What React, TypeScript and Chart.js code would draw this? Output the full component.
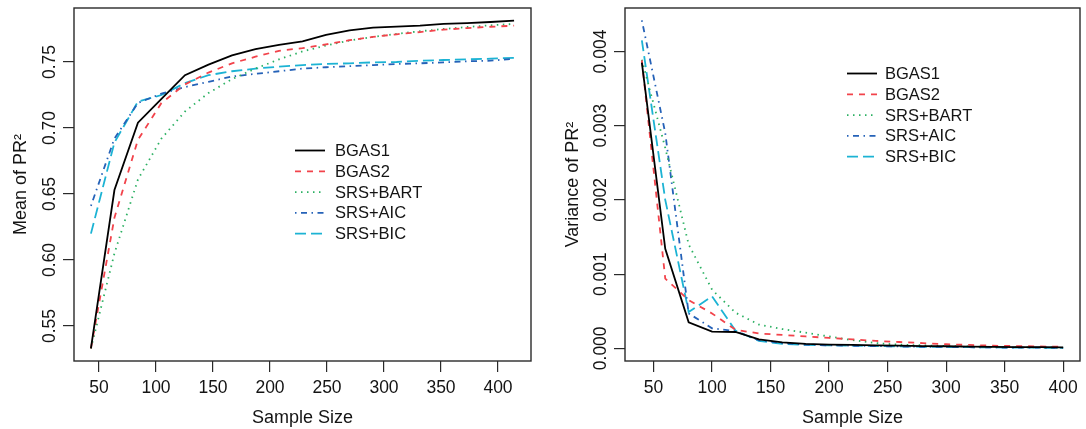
import React, { useEffect, useRef } from "react";
import { Chart, registerables } from "chart.js";

Chart.register(...registerables);

// ---------- data ----------
const sampleSizes = [40, 60, 80, 100, 120, 140, 160, 180, 200, 220, 240, 260, 280, 300, 320, 340, 360, 380, 400];

const seriesLabels = ["BGAS1", "BGAS2", "SRS+BART", "SRS+AIC", "SRS+BIC"];

// Mean of PR^2
const meanBGAS1 = [0.533, 0.653, 0.704, 0.722, 0.740, 0.748, 0.755, 0.7598, 0.763, 0.7657, 0.7705, 0.774, 0.776, 0.7768, 0.7775, 0.7788, 0.7795, 0.7803, 0.7813];
const meanBGAS2 = [0.533, 0.632, 0.691, 0.719, 0.733, 0.742, 0.749, 0.754, 0.7585, 0.7605, 0.7633, 0.7665, 0.769, 0.771, 0.7727, 0.7745, 0.7757, 0.7767, 0.7775];
const meanBART = [0.533, 0.605, 0.661, 0.692, 0.7125, 0.7265, 0.737, 0.745, 0.752, 0.758, 0.7625, 0.7663, 0.769, 0.7713, 0.7733, 0.775, 0.7765, 0.7778, 0.7788];
const meanAIC = [0.641, 0.692, 0.719, 0.726, 0.731, 0.735, 0.739, 0.741, 0.743, 0.745, 0.746, 0.7468, 0.7477, 0.7485, 0.749, 0.7497, 0.7505, 0.751, 0.7525];
const meanBIC = [0.620, 0.689, 0.720, 0.725, 0.734, 0.740, 0.743, 0.745, 0.7465, 0.7477, 0.7485, 0.749, 0.7497, 0.750, 0.751, 0.7515, 0.752, 0.7525, 0.7532];

// Variance of PR^2
const varBGAS1 = [0.00385, 0.00134, 0.00035, 0.000224, 0.00022, 0.00012, 0.00008, 0.00006, 0.00005, 0.000045, 0.00004, 0.000035, 0.00003, 0.000028, 0.000024, 0.00002, 0.000017, 0.000015, 0.000013];
const varBGAS2 = [0.00388, 0.00094, 0.00065, 0.00047, 0.00025, 0.0002, 0.00018, 0.00016, 0.00014, 0.00012, 0.0001, 0.000085, 0.00007, 0.000055, 0.000045, 0.000035, 0.00003, 0.000025, 0.00002];
const varBART = [0.00389, 0.0027, 0.0014, 0.00079, 0.00048, 0.00032, 0.00026, 0.00021, 0.00016, 0.00011, 0.00007, 0.00005, 0.00004, 0.00003, 0.000025, 0.00002, 0.000015, 0.000012, 0.00001];
const varAIC = [0.00442, 0.0029, 0.00047, 0.00027, 0.00023, 0.00011, 0.00007, 0.00005, 0.00004, 0.000035, 0.00003, 0.000025, 0.00002, 0.000018, 0.000015, 0.000012, 0.00001, 0.000008, 0.000007];
const varBIC = [0.00415, 0.002, 0.00049, 0.0007, 0.00024, 0.0001, 0.00006, 0.000045, 0.00004, 0.000035, 0.00003, 0.000025, 0.00002, 0.000018, 0.000015, 0.000012, 0.00001, 0.000008, 0.000007];

const xTickValues = [50, 100, 150, 200, 250, 300, 350, 400];
const meanTickValues = [0.55, 0.6, 0.65, 0.7, 0.75];
const meanTickLabels = ["0.55", "0.60", "0.65", "0.70", "0.75"];
const varTickValues = [0, 0.001, 0.002, 0.003, 0.004];
const varTickLabels = ["0.000", "0.001", "0.002", "0.003", "0.004"];

// ---------- styles ----------
const seriesColors = ["#000000", "#F2434B", "#2BB062", "#2562B8", "#1CB3D4"];
const seriesDashes: number[][] = [[], [6, 6], [1.5, 4.5], [1.5, 4.5, 6, 4.5], [11, 5]];
const FONT = "'Liberation Sans', Arial, Helvetica, sans-serif";
const TEXT = "#141414";
const AXIS = "#2a2a2a";

function makeDatasets(series: number[][]) {
  return series.map((vals, i) => ({
    label: seriesLabels[i],
    data: sampleSizes.map((s, j) => ({ x: s, y: vals[j] })),
    borderColor: seriesColors[i],
    borderDash: seriesDashes[i],
    borderWidth: 1.8,
    pointRadius: 0,
    tension: 0,
    fill: false,
    xAxisID: "x",
    yAxisID: "y",
  }));
}

function rPlugin(cfg: { yLabels: string[]; legendLineX: number; legendTextX: number; legendY: number; rowH: number }) {
  return {
    id: "rstyle",
    afterDraw(chart: any) {
      const { ctx, chartArea } = chart;
      const { left, right, top, bottom } = chartArea;
      ctx.save();
      // box
      ctx.strokeStyle = AXIS;
      ctx.lineWidth = 1.4;
      ctx.setLineDash([]);
      ctx.strokeRect(left, top, right - left, bottom - top);
      // rotated y tick labels
      const ys = chart.scales.y;
      ctx.fillStyle = TEXT;
      ctx.font = `17.5px ${FONT}`;
      ys.ticks.forEach((t: any, i: number) => {
        const py = ys.getPixelForValue(t.value);
        ctx.save();
        ctx.translate(left - 19, py);
        ctx.rotate(-Math.PI / 2);
        ctx.textAlign = "center";
        ctx.textBaseline = "alphabetic";
        ctx.fillText(cfg.yLabels[i], 0, 0);
        ctx.restore();
      });
      // legend
      ctx.font = `16.5px ${FONT}`;
      chart.data.datasets.forEach((ds: any, i: number) => {
        const y = cfg.legendY + i * cfg.rowH;
        ctx.beginPath();
        ctx.strokeStyle = ds.borderColor;
        ctx.lineWidth = 1.8;
        ctx.setLineDash(ds.borderDash || []);
        ctx.moveTo(cfg.legendLineX, y);
        ctx.lineTo(cfg.legendLineX + 30, y);
        ctx.stroke();
        ctx.setLineDash([]);
        ctx.fillStyle = TEXT;
        ctx.textAlign = "left";
        ctx.textBaseline = "middle";
        ctx.fillText(ds.label, cfg.legendTextX, y + 1);
      });
      ctx.restore();
    },
  };
}

function tickAxis(min: number, max: number) {
  return {
    type: "linear",
    position: "bottom",
    min,
    max,
    afterBuildTicks: (s: any) => {
      s.ticks = xTickValues.map((v) => ({ value: v }));
    },
    afterFit: (s: any) => {
      s.height = 68;
    },
    ticks: { font: { size: 17.5, family: FONT }, color: TEXT, padding: 6, autoSkip: false, maxRotation: 0, minRotation: 0, callback: (v: any) => String(v) },
    grid: { display: true, drawOnChartArea: false, drawTicks: true, tickLength: 11, color: AXIS, lineWidth: 1.2 },
    border: { display: false },
    title: { display: true, text: "Sample Size", color: TEXT, font: { size: 18, family: FONT }, padding: { top: 0, bottom: 0.5 } },
  };
}

function yAxis(min: number, max: number, ticks: number[], width: number, title: string, titlePad: number) {
  return {
    type: "linear",
    position: "left",
    min,
    max,
    afterBuildTicks: (s: any) => {
      s.ticks = ticks.map((v) => ({ value: v }));
    },
    afterFit: (s: any) => {
      s.width = width;
    },
    ticks: { display: false },
    grid: { display: true, drawOnChartArea: false, drawTicks: true, tickLength: 11, color: AXIS, lineWidth: 1.2 },
    border: { display: false },
    title: { display: true, text: title, color: TEXT, font: { size: 18, family: FONT }, padding: { top: titlePad, bottom: 0 } },
  };
}

function ChartPanel({ which }: { which: "mean" | "var" }) {
  const ref = useRef<HTMLCanvasElement | null>(null);
  useEffect(() => {
    if (!ref.current) return;
    let config: any;
    if (which === "mean") {
      config = {
        type: "line",
        data: { datasets: makeDatasets([meanBGAS1, meanBGAS2, meanBART, meanAIC, meanBIC]) },
        options: {
          animation: false,
          responsive: false,
          layout: { padding: { left: 0, right: 12, top: 8, bottom: 0 } },
          plugins: { legend: { display: false }, tooltip: { enabled: false } },
          scales: {
            x: { type: "linear", min: 25.6, max: 414.4, display: false },
            xAxis: tickAxis(28.07, 428.95),
            y: yAxis(0.5235, 0.7909, meanTickValues, 74, "Mean of PR²", 10.5),
          },
        },
        plugins: [rPlugin({ yLabels: meanTickLabels, legendLineX: 295, legendTextX: 335, legendY: 150.5, rowH: 20.8 })],
      };
    } else {
      config = {
        type: "line",
        data: { datasets: makeDatasets([varBGAS1, varBGAS2, varBART, varAIC, varBIC]) },
        options: {
          animation: false,
          responsive: false,
          layout: { padding: { left: 0, right: 6, top: 8, bottom: 0 } },
          plugins: { legend: { display: false }, tooltip: { enabled: false } },
          scales: {
            x: tickAxis(25.6, 414.4),
            y: yAxis(-0.000171, 0.004586, varTickValues, 82, "Variance of PR²", 19.5),
          },
        },
        plugins: [rPlugin({ yLabels: varTickLabels, legendLineX: 304, legendTextX: 342, legendY: 73.5, rowH: 20.8 })],
      };
    }
    const chart = new Chart(ref.current, config);
    return () => chart.destroy();
  }, [which]);
  return <canvas ref={ref} width={543} height={429} style={{ display: "block", width: 543, height: 429 }} />;
}

export default function App() {
  return (
    <div style={{ position: "absolute", left: 0, top: 0, width: 1086, height: 429, background: "#fff", display: "flex" }}>
      <ChartPanel which="mean" />
      <ChartPanel which="var" />
    </div>
  );
}
